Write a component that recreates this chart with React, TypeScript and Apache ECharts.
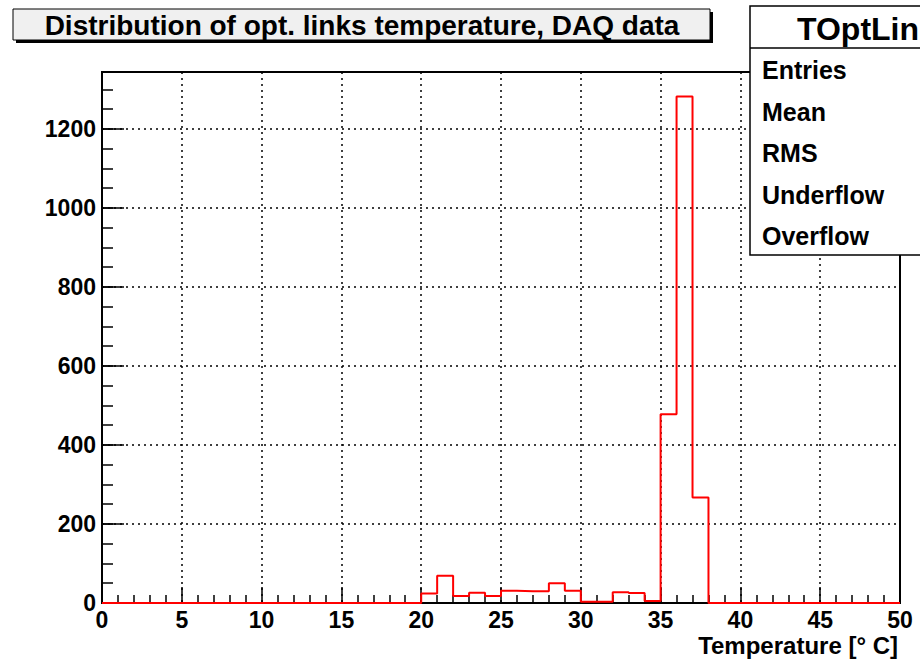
import React, { useEffect, useRef } from 'react';
import * as echarts from 'echarts';

// Histogram bin contents, 1 degree bins from 0 to 50 °C
const counts: number[] = [
  0, 0, 0, 0, 0, 0, 0, 0, 0, 0,
  0, 0, 0, 0, 0, 0, 0, 0, 0, 0,
  24, 69, 18, 26, 18, 31, 30, 30, 50, 31,
  3, 3, 27, 25, 5, 478, 1282, 267, 0, 0,
  0, 0, 0, 0, 0, 0, 0, 0, 0, 0,
];
const binWidth = 1;
const xMin = 0;
const xMax = 50;
const yMax = 1344;
const titleText = 'Distribution of opt. links temperature, DAQ data';
const statsTitle = 'TOptLin';
const statsLabels = ['Entries', 'Mean', 'RMS', 'Underflow', 'Overflow'];
const xTitle = 'Temperature [° C]';

const FONT = '"Liberation Sans", Arial, Helvetica, sans-serif';

export default function App() {
  const ref = useRef<HTMLDivElement>(null);
  useEffect(() => {
    document.body.style.margin = '0';
    if (!ref.current) return;
    const chart = echarts.init(ref.current, undefined, { renderer: 'svg' });
    const pts: number[][] = counts.map((c, i) => [xMin + i * binWidth, c]);
    pts.push([xMax, counts[counts.length - 1]]);

    const dotted = { type: [2, 4] as number[], color: '#000', width: 1.5 };

    chart.setOption({
      animation: false,
      backgroundColor: '#fff',
      grid: {
        left: 102,
        right: 20,
        top: 72,
        bottom: 59,
        show: true,
        borderColor: '#000',
        borderWidth: 2,
        backgroundColor: '#fff',
      },
      xAxis: {
        type: 'value',
        min: xMin,
        max: xMax,
        interval: 5,
        axisLine: { show: true, lineStyle: { color: '#000', width: 2 } },
        axisTick: { show: true, inside: true, length: 16, lineStyle: { color: '#000', width: 1.5 } },
        minorTick: { show: true, splitNumber: 5, length: 8, lineStyle: { color: '#000', width: 1.5 } },
        splitLine: { show: true, lineStyle: dotted },
        axisLabel: {
          color: '#000',
          fontFamily: FONT,
          fontWeight: 'bold',
          fontSize: 23,
          margin: 5,
        },
      },
      yAxis: [
        {
          type: 'value',
          min: 0,
          max: yMax,
          interval: 200,
          axisLine: { show: true, lineStyle: { color: '#000', width: 2 } },
          axisTick: { show: true, inside: true, length: 22, lineStyle: { color: '#000', width: 1.5 } },
          splitLine: { show: true, lineStyle: dotted },
          axisLabel: {
            color: '#000',
            fontFamily: FONT,
            fontWeight: 'bold',
            fontSize: 23,
            margin: 6,
            showMaxLabel: false,
            formatter: (v: number) => (v % 200 === 0 ? String(v) : ''),
          },
        },
        {
          type: 'value',
          min: 0,
          max: yMax,
          interval: 50,
          position: 'left',
          axisLine: { show: false },
          axisTick: { show: true, inside: true, length: 11, lineStyle: { color: '#000', width: 1.5 } },
          splitLine: { show: false },
          axisLabel: { show: false },
        },
      ],
      series: [
        {
          type: 'line',
          step: 'end',
          data: pts,
          yAxisIndex: 0,
          symbol: 'none',
          clip: false,
          z: 5,
          lineStyle: { color: '#ff0000', width: 2 },
        },
      ],
      graphic: [
        { type: 'rect', z: 100, shape: { x: 16, y: 12, width: 697, height: 31 }, style: { fill: '#000' } },
        { type: 'rect', z: 101, shape: { x: 13, y: 9, width: 697, height: 31 }, style: { fill: '#f0f0f0', stroke: '#000', lineWidth: 1 } },
        {
          type: 'text',
          z: 102,
          x: 362,
          y: 25,
          style: {
            text: titleText,
            fontFamily: FONT,
            fontWeight: 'bold',
            fontSize: 28,
            fill: '#000',
            textAlign: 'center',
            textVerticalAlign: 'middle',
          },
        },
        { type: 'rect', z: 100, shape: { x: 750, y: 6, width: 200, height: 249 }, style: { fill: '#fff', stroke: '#000', lineWidth: 1.5 } },
        { type: 'line', z: 101, shape: { x1: 750, y1: 48, x2: 920, y2: 48 }, style: { stroke: '#000', lineWidth: 1.5 } },
        {
          type: 'text',
          z: 102,
          x: 797,
          y: 29,
          style: {
            text: statsTitle,
            fontFamily: FONT,
            fontWeight: 'bold',
            fontSize: 32,
            fill: '#000',
            textAlign: 'left',
            textVerticalAlign: 'middle',
          },
        },
        ...statsLabels.map((t, i) => ({
          type: 'text',
          z: 102,
          x: 762,
          y: 70 + i * 41.5,
          style: {
            text: t,
            fontFamily: FONT,
            fontWeight: 'bold',
            fontSize: 25,
            fill: '#000',
            textAlign: 'left',
            textVerticalAlign: 'middle',
          },
        })),
        {
          type: 'text',
          x: 898,
          y: 645,
          style: {
            text: xTitle,
            fontFamily: FONT,
            fontWeight: 'bold',
            fontSize: 24,
            fill: '#000',
            textAlign: 'right',
            textVerticalAlign: 'middle',
          },
        },
      ],
    });
    return () => chart.dispose();
  }, []);
  return <div ref={ref} style={{ width: 920, height: 662 }} />;
}
